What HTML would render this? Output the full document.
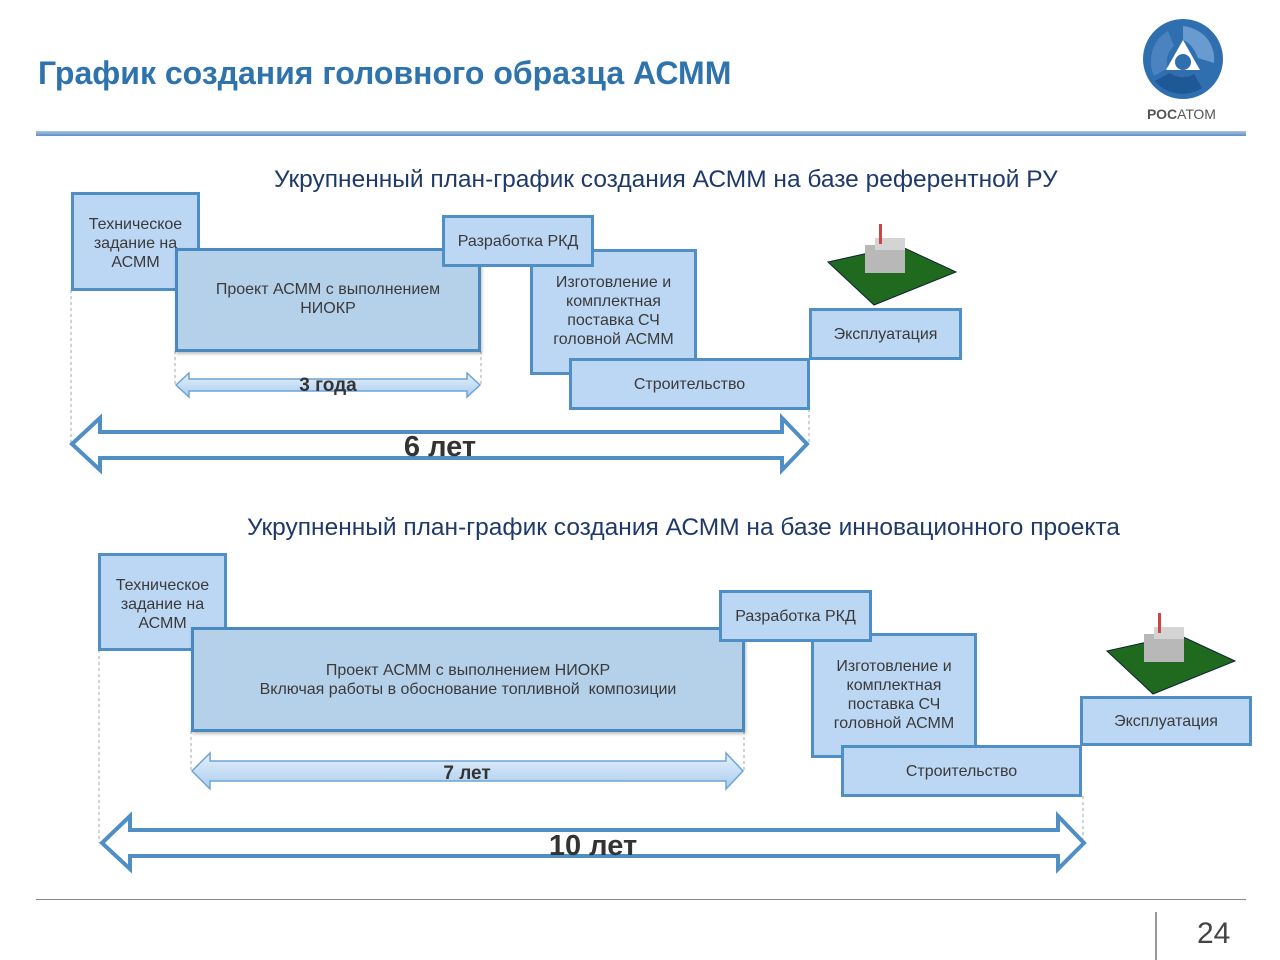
<!DOCTYPE html>
<html><head><meta charset="utf-8"><style>
body{margin:0;width:1280px;height:960px;background:#fff;position:relative;overflow:hidden;font-family:"Liberation Sans","DejaVu Sans",sans-serif}
.b{position:absolute;box-sizing:border-box;border:3px solid #4f8fc6;background:#bcd7f3;color:#3a3a3a;font-size:16px;line-height:19px;display:flex;align-items:center;justify-content:center;text-align:center}
.p{background:#b5d1ea;border-color:#4a89c0;box-shadow:1px 2px 3px rgba(0,0,0,.25)}
.t{position:absolute;white-space:nowrap}
</style></head><body>
<div class="t" style="left:38px;top:55px;font-size:32px;font-weight:bold;color:#2f73ad">График создания головного образца АСММ</div>
<div style="position:absolute;left:36px;top:131px;width:1210px;height:5px;background:linear-gradient(#a9c6e2,#5d8fc2)"></div>
<svg style="position:absolute;left:1142px;top:18px" width="82" height="82" viewBox="0 0 82 82">
<circle cx="41" cy="41" r="40" fill="#2f6fb0"/>
<path d="M41 8 C60 10 74 25 72 45 L56 40 C52 30 47 24 41 22Z" fill="#6a9bd0"/>
<path d="M12 58 C5 42 10 22 26 13 L32 28 C26 33 23 42 26 50Z" fill="#4a83c0"/>
<path d="M60 70 C45 80 24 77 13 63 L28 55 C35 60 44 61 52 56Z" fill="#1e5896"/>
<path d="M41 22 L58 52 L24 52Z" fill="#fff"/>
<circle cx="41" cy="44" r="8" fill="#2f6fb0"/></svg>
<div class="t" style="left:1147px;top:106px;font-size:14px;color:#555"><b>РОС</b>АТОМ</div>

<div class="t" style="left:274px;top:166px;font-size:24.5px;color:#1f3a6a">Укрупненный план-график создания АСММ на базе референтной РУ</div>
<div class="t" style="left:247px;top:514px;font-size:24.5px;color:#1f3a6a">Укрупненный план-график создания АСММ на базе инновационного проекта</div>

<svg style="position:absolute;left:0;top:0" width="1280" height="960">
<defs><linearGradient id="g" x1="0" y1="0" x2="0" y2="1"><stop offset="0" stop-color="#e6f1fb"/><stop offset="1" stop-color="#a9cdee"/></linearGradient></defs>
<g stroke="#9aa" stroke-dasharray="3,3" stroke-width="1">
<line x1="71" y1="290" x2="71" y2="444"/><line x1="175" y1="351" x2="175" y2="385"/><line x1="481" y1="351" x2="481" y2="385"/><line x1="809" y1="409" x2="809" y2="444"/>
<line x1="99" y1="650" x2="99" y2="843"/><line x1="191" y1="731" x2="191" y2="771"/><line x1="744" y1="731" x2="744" y2="771"/><line x1="1083" y1="796" x2="1083" y2="843"/>
</g>
<path d="M72 444 L100 418 L100 432 L782 432 L782 418 L807 444 L782 470 L782 458 L100 458 L100 470Z" fill="#fff" stroke="#4f8fc6" stroke-width="4"/>
<path d="M102 843 L130 816 L130 830 L1058 830 L1058 816 L1084 843 L1058 869 L1058 856 L130 856 L130 869Z" fill="#fff" stroke="#4f8fc6" stroke-width="4"/>
<path d="M176 385 L189 373 L189 379 L467 379 L467 373 L480 385 L467 397 L467 391 L189 391 L189 397Z" fill="url(#g)" stroke="#6fa4d4" stroke-width="1.5"/>
<path d="M192 771 L210 753 L210 761 L726 761 L726 753 L743 771 L726 789 L726 781 L210 781 L210 789Z" fill="url(#g)" stroke="#6fa4d4" stroke-width="1.5"/>
<text x="328" y="391" font-size="19" font-weight="bold" fill="#333" text-anchor="middle" font-family="Liberation Sans">3 года</text>
<text x="440" y="456" font-size="29" font-weight="bold" fill="#333" text-anchor="middle" font-family="Liberation Sans">6 лет</text>
<text x="467" y="779" font-size="19" font-weight="bold" fill="#333" text-anchor="middle" font-family="Liberation Sans">7 лет</text>
<text x="593" y="855" font-size="29" font-weight="bold" fill="#333" text-anchor="middle" font-family="Liberation Sans">10 лет</text>
<g id="plant">
<polygon points="828,262 900,246 956,272 874,305" fill="#1f6a1f" stroke="#123" stroke-width="1"/>
<rect x="865" y="245" width="40" height="28" fill="#b8b8b8"/><rect x="875" y="238" width="30" height="12" fill="#d4d4d4"/>
<rect x="879" y="224" width="3" height="20" fill="#c44"/>
</g>
<use href="#plant" x="279" y="389"/>
</svg>

<div class="b" style="left:71px;top:192px;width:129px;height:99px;align-items:flex-start;padding-top:20px">Техническое<br>задание на<br>АСММ</div>
<div class="b p" style="left:175px;top:248px;width:306px;height:104px;padding-bottom:2px">Проект АСММ с выполнением<br>НИОКР</div>
<div class="b" style="left:530px;top:249px;width:167px;height:126px;padding-bottom:2px">Изготовление и<br>комплектная<br>поставка СЧ<br>головной АСММ</div>
<div class="b" style="left:442px;top:215px;width:152px;height:52px">Разработка РКД</div>
<div class="b" style="left:569px;top:358px;width:241px;height:52px">Строительство</div>
<div class="b" style="left:809px;top:308px;width:153px;height:52px">Эксплуатация</div>

<div class="b" style="left:98px;top:553px;width:129px;height:98px;align-items:flex-start;padding-top:20px">Техническое<br>задание на<br>АСММ</div>
<div class="b p" style="left:191px;top:627px;width:554px;height:105px;padding-bottom:0px">Проект АСММ с выполнением НИОКР<br>Включая работы в обоснование топливной&nbsp; композиции</div>
<div class="b" style="left:811px;top:633px;width:166px;height:125px;padding-bottom:2px">Изготовление и<br>комплектная<br>поставка СЧ<br>головной АСММ</div>
<div class="b" style="left:719px;top:590px;width:153px;height:52px">Разработка РКД</div>
<div class="b" style="left:841px;top:745px;width:241px;height:52px">Строительство</div>
<div class="b" style="left:1080px;top:696px;width:172px;height:50px">Эксплуатация</div>

<div style="position:absolute;left:36px;top:899px;width:1210px;height:1px;background:#888"></div>
<div style="position:absolute;left:1155px;top:912px;width:2px;height:48px;background:#999"></div>
<div class="t" style="left:1197px;top:917px;font-size:30px;color:#444">24</div>
</body></html>
